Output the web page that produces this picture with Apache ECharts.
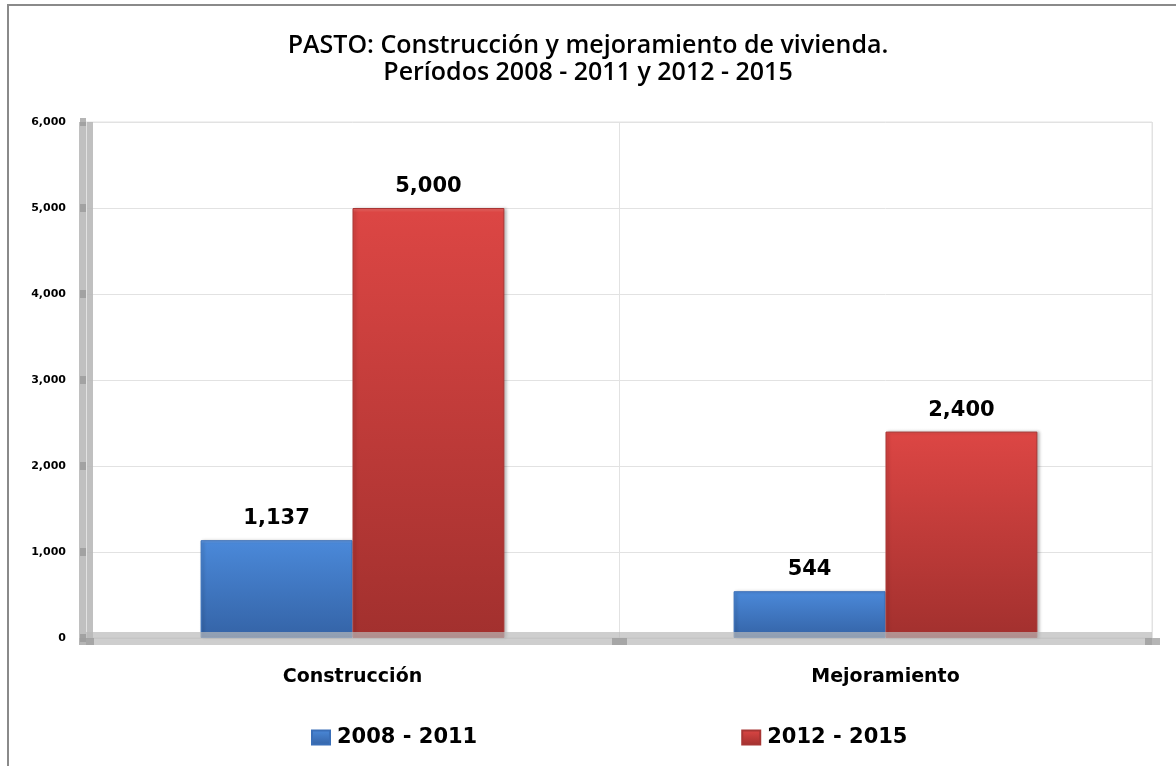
<!DOCTYPE html>
<html>
<head>
<meta charset="utf-8">
<title>PASTO vivienda</title>
<script src="https://cdn.jsdelivr.net/npm/echarts@6/dist/echarts.min.js"></script>
<style>
  html, body { margin: 0; padding: 0; background: #fff; }
  #chart { width: 1176px; height: 766px; }
</style>
</head>
<body>
<div id="chart"></div>
<script>
const categories = ['Construcción', 'Mejoramiento']
const seriesNames = ['2008 - 2011', '2012 - 2015']
const values2008 = [1137, 544]
const values2012 = [5000, 2400]
const yMin = 0
const yMax = 6000
const yStep = 1000

const fmt = v => Number(v).toLocaleString('en-US')

const blueFill = new echarts.graphic.LinearGradient(0, 0, 0, 1, [
  { offset: 0, color: '#6fa3e6' },
  { offset: 0.03, color: '#4a88d8' },
  { offset: 1, color: '#3463a6' }
])
const redFill = new echarts.graphic.LinearGradient(0, 0, 0, 1, [
  { offset: 0, color: '#ec6a66' },
  { offset: 0.01, color: '#dc4644' },
  { offset: 1, color: '#a2302e' }
])

const myChart = echarts.init(document.getElementById('chart'))
const option = {
  animation: false,
  backgroundColor: '#fff',
  title: {
    text: 'PASTO: Construcción y mejoramiento de vivienda.\nPeríodos 2008 - 2011 y 2012 - 2015',
    left: 'center',
    top: 27,
    textStyle: {
      fontFamily: 'Open Sans',
      fontSize: 25,
      fontWeight: 600,
      color: '#000',
      lineHeight: 27
    }
  },
  graphic: [
    {
      type: 'rect',
      shape: { x: 8, y: 5, width: 1300, height: 900 },
      style: { fill: 'none', stroke: '#8a8a8a', lineWidth: 2 },
      silent: true
    }
  ],
  legend: {
    left: 306,
    top: 722,
    itemWidth: 18,
    itemHeight: 14,
    itemGap: 264,
    icon: 'rect',
    textStyle: {
      fontFamily: 'DejaVu Sans',
      fontWeight: 'bold',
      fontSize: 21,
      color: '#000',
      padding: [0, 0, 0, 2]
    },
    data: seriesNames
  },
  grid: {
    left: 86,
    right: 24,
    top: 122,
    bottom: 128,
    show: true,
    borderColor: '#e2e2e2',
    borderWidth: 1
  },
  xAxis: {
    type: 'category',
    data: categories,
    z: 3,
    axisLine: { lineStyle: { color: 'rgba(185,185,185,0.7)', width: 13, cap: 'butt' } },
    axisTick: { show: true, length: 7, lineStyle: { color: 'rgba(150,150,150,0.7)', width: 15 } },
    splitLine: { show: true, lineStyle: { color: '#e2e2e2' } },
    axisLabel: {
      margin: 30,
      fontFamily: 'DejaVu Sans',
      fontWeight: 'bold',
      fontSize: 19,
      color: '#000'
    }
  },
  yAxis: {
    type: 'value',
    min: yMin,
    max: yMax,
    interval: yStep,
    axisLine: { show: true, lineStyle: { color: 'rgba(185,185,185,0.9)', width: 14, cap: 'butt' } },
    axisTick: { show: true, length: 6, lineStyle: { color: 'rgba(150,150,150,0.7)', width: 8 } },
    splitLine: { lineStyle: { color: '#e2e2e2' } },
    axisLabel: {
      margin: 20,
      fontFamily: 'DejaVu Sans',
      fontWeight: 'bold',
      fontSize: 11,
      color: '#000',
      formatter: fmt
    }
  },
  series: [
    {
      name: seriesNames[0],
      type: 'bar',
      data: values2008,
      barGap: 0,
      barCategoryGap: '43%',
      itemStyle: {
        color: blueFill,
        borderColor: '#3a6fb8',
        borderWidth: 1,
        shadowColor: 'rgba(0,0,0,0.25)',
        shadowBlur: 3,
        shadowOffsetX: 2
      },
      label: {
        show: true,
        position: 'top',
        distance: 11,
        fontFamily: 'DejaVu Sans',
        fontWeight: 'bold',
        fontSize: 21,
        color: '#000',
        formatter: p => fmt(p.value)
      }
    },
    {
      name: seriesNames[1],
      type: 'bar',
      data: values2012,
      barGap: 0,
      barCategoryGap: '43%',
      itemStyle: {
        color: redFill,
        borderColor: '#a83634',
        borderWidth: 1,
        shadowColor: 'rgba(0,0,0,0.25)',
        shadowBlur: 3,
        shadowOffsetX: 2
      },
      label: {
        show: true,
        position: 'top',
        distance: 11,
        fontFamily: 'DejaVu Sans',
        fontWeight: 'bold',
        fontSize: 21,
        color: '#000',
        formatter: p => fmt(p.value)
      }
    }
  ]
}
option && myChart.setOption(option)
window.addEventListener('resize', function () {
  myChart.resize()
})
</script>
</body>
</html>
